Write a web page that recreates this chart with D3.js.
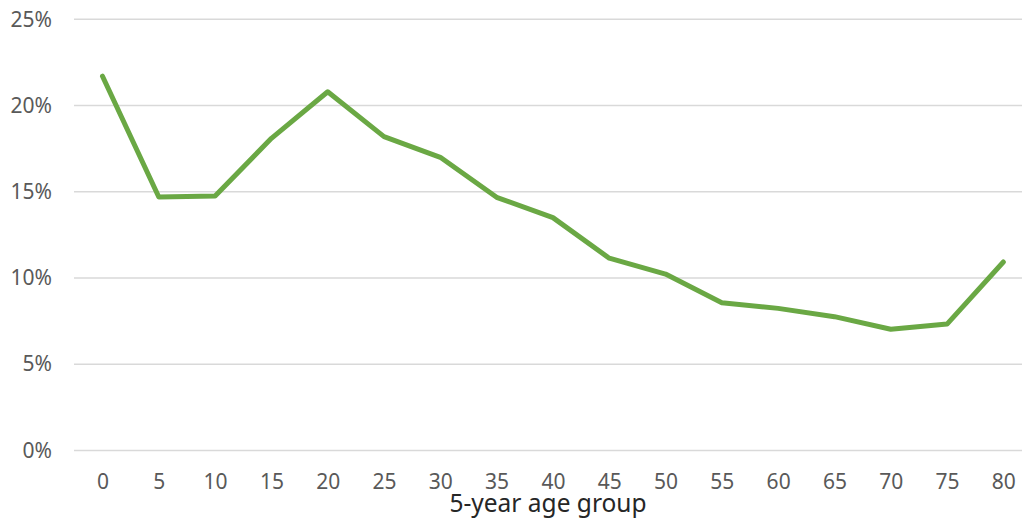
<!DOCTYPE html>
<html>
<head>
<meta charset="utf-8">
<script src="https://cdn.jsdelivr.net/npm/d3@7"></script>
<style>
  html, body { margin: 0; padding: 0; background: #ffffff; }
  svg { display: block; }
</style>
</head>
<body>
<svg id="chart" width="1022" height="519"></svg>
<script>
// Share by 5-year age group (lower bound of each group)
const ageGroups = ["0", "5", "10", "15", "20", "25", "30", "35", "40", "45", "50", "55", "60", "65", "70", "75", "80"];
const shares = [21.7, 14.7, 14.75, 18.1, 20.8, 18.2, 17.0, 14.68, 13.5, 11.15, 10.23, 8.57, 8.24, 7.76, 7.03, 7.33, 10.93];
const yTicks = [0, 5, 10, 15, 20, 25];
const xTitle = "5-year age group";

const W = 1022, H = 519;
const plot = { left: 74.35, right: 1031.5, top: 19.3, bottom: 450.5 };

const svg = d3.select("#chart");

const x = d3.scalePoint()
  .domain(ageGroups)
  .range([plot.left, plot.right])
  .padding(0.5);

const y = d3.scaleLinear()
  .domain([0, 25])
  .range([plot.bottom, plot.top]);

// Horizontal gridlines
svg.append("g")
  .selectAll("line")
  .data(yTicks)
  .join("line")
  .attr("x1", 74)
  .attr("x2", W)
  .attr("y1", d => y(d))
  .attr("y2", d => y(d))
  .attr("stroke", "#d9d9d9")
  .attr("stroke-width", 1.5);

// Y axis labels
const yAxis = d3.axisLeft(y)
  .tickValues(yTicks)
  .tickFormat(d => d + "%")
  .tickSize(0)
  .tickPadding(22);

svg.append("g")
  .attr("transform", `translate(74,0)`)
  .call(yAxis)
  .call(g => g.select(".domain").remove())
  .call(g => g.selectAll("text")
    .attr("fill", "#595959")
    .attr("font-family", "'Noto Sans', sans-serif")
    .attr("font-size", 21));

// X axis labels
const xAxis = d3.axisBottom(x)
  .tickSize(0)
  .tickPadding(23.5);

svg.append("g")
  .attr("transform", `translate(0,${plot.bottom})`)
  .call(xAxis)
  .call(g => g.select(".domain").remove())
  .call(g => g.selectAll("text")
    .attr("fill", "#595959")
    .attr("font-family", "'Noto Sans', sans-serif")
    .attr("font-size", 21));

// X axis title
svg.append("text")
  .attr("x", 548)
  .attr("y", 512)
  .attr("text-anchor", "middle")
  .attr("fill", "#262626")
  .attr("font-family", "'Noto Sans', sans-serif")
  .attr("font-size", 24.5)
  .text(xTitle);

// Series line
const line = d3.line()
  .x((d, i) => x(ageGroups[i]))
  .y(d => y(d));

svg.append("path")
  .datum(shares)
  .attr("d", line)
  .attr("fill", "none")
  .attr("stroke", "#6aa844")
  .attr("stroke-width", 5)
  .attr("stroke-linejoin", "round")
  .attr("stroke-linecap", "round");
</script>
</body>
</html>
